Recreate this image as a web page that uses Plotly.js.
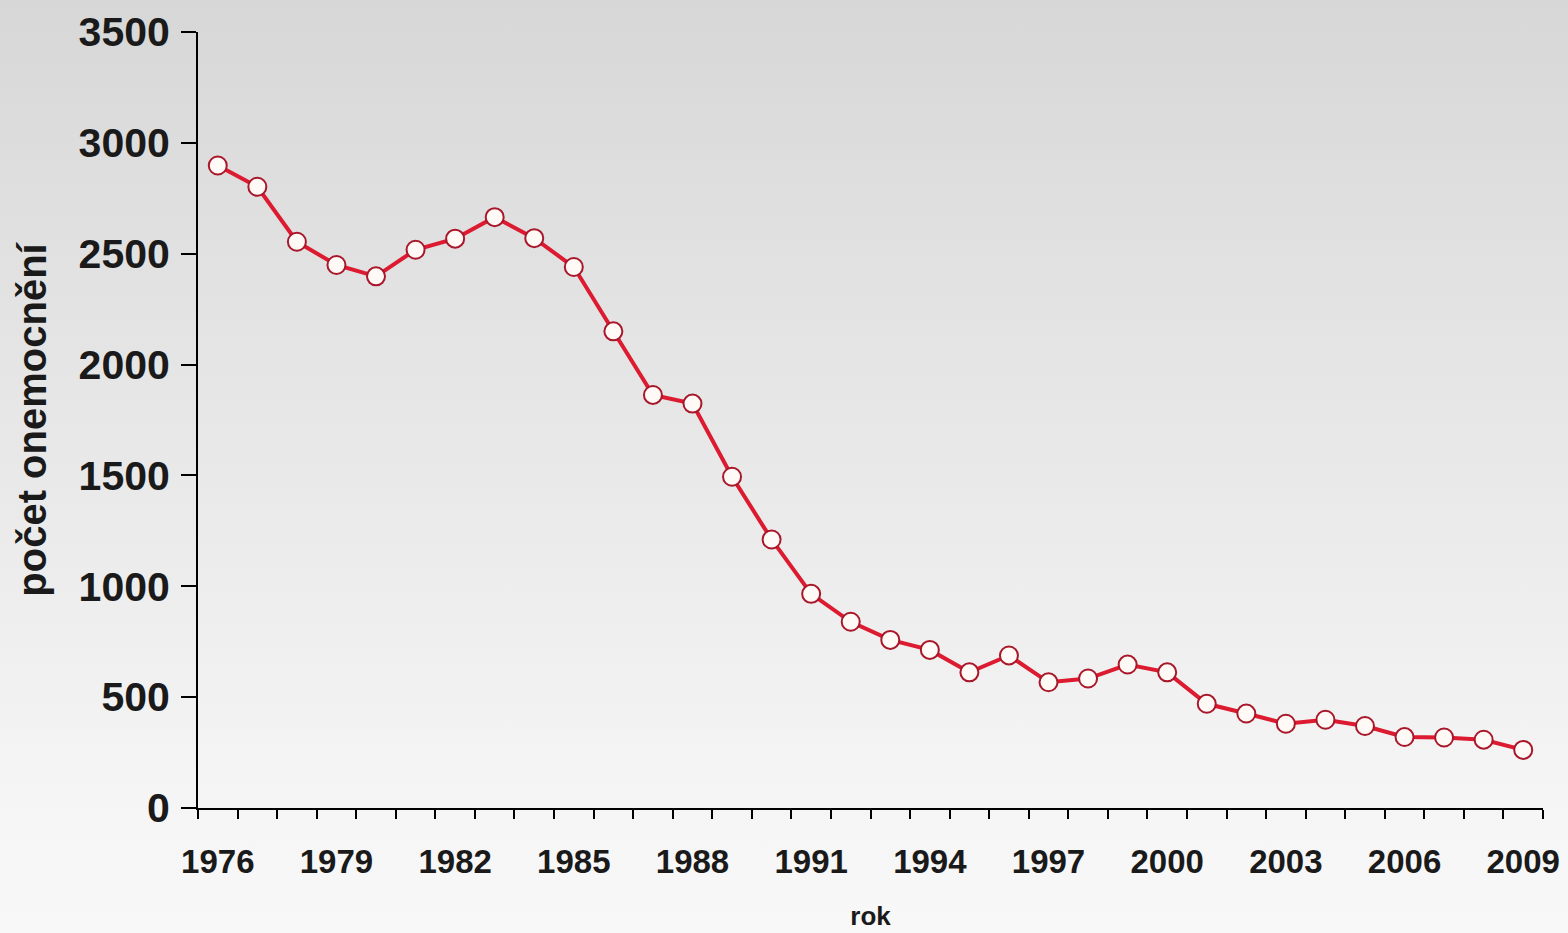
<!DOCTYPE html>
<html>
<head>
<meta charset="utf-8">
<script src="https://cdn.plot.ly/plotly-3.0.1.min.js"></script>
<style>
  html, body { margin: 0; padding: 0; }
  #chart {
    width: 1568px; height: 933px;
    background: linear-gradient(to bottom, #d7d7d7 0%, #e2e2e2 30%, #ececec 60%, #f5f5f5 85%, #f8f8f8 100%);
  }
</style>
</head>
<body>
<div id="chart"></div>
<script>
// Data
const years = [1976,1977,1978,1979,1980,1981,1982,1983,1984,1985,1986,1987,1988,1989,1990,1991,1992,1993,1994,1995,1996,1997,1998,1999,2000,2001,2002,2003,2004,2005,2006,2007,2008,2009];
const cases = [2898,2802,2554,2449,2398,2518,2568,2665,2570,2440,2150,1863,1824,1494,1211,966,840,758,713,612,688,567,584,647,612,470,426,380,398,370,320,318,308,262];
const yearTickLabels = ['1976','1979','1982','1985','1988','1991','1994','1997','2000','2003','2006','2009'];
const yearTickVals = yearTickLabels.map(Number);
const yTickVals = [0,500,1000,1500,2000,2500,3000,3500];

const FONT = '"Liberation Sans", Arial, sans-serif';

const trace = {
  x: years,
  y: cases,
  type: 'scatter',
  mode: 'lines+markers',
  line: { color: '#dc1a30', width: 4 },
  marker: { symbol: 'circle', size: 18, color: '#fffaf6', line: { color: '#a8172a', width: 2 } },
  hoverinfo: 'x+y',
  showlegend: false
};

const layout = {
  width: 1568,
  height: 933,
  paper_bgcolor: 'rgba(0,0,0,0)',
  plot_bgcolor: 'rgba(0,0,0,0)',
  margin: { l: 198, r: 25, t: 32, b: 125 },
  font: { family: FONT, color: '#1a1a1a' },
  xaxis: {
    range: [1975.5, 2009.5],
    tickmode: 'array',
    tickvals: yearTickVals,
    ticktext: yearTickLabels,
    ticks: 'outside',
    ticklen: 23,
    tickcolor: 'rgba(0,0,0,0)',
    tickfont: { family: FONT, size: 33, color: '#1a1a1a', weight: 'bold' },
    showline: true,
    linecolor: '#000',
    linewidth: 2,
    showgrid: false,
    zeroline: false,
    minor: { tick0: 1975.5, dtick: 1, ticks: 'outside', ticklen: 9, tickwidth: 2, tickcolor: '#000', showgrid: false },
    title: { text: 'rok', font: { family: FONT, size: 26, color: '#1a1a1a', weight: 'bold' }, standoff: 28 }
  },
  yaxis: {
    range: [0, 3500],
    tickmode: 'array',
    tickvals: yTickVals,
    ticks: 'outside',
    ticklen: 15,
    tickwidth: 2,
    tickcolor: '#000',
    ticklabelstandoff: 3,
    tickfont: { family: FONT, size: 41, color: '#1a1a1a', weight: 'bold' },
    showline: true,
    linecolor: '#000',
    linewidth: 2,
    showgrid: false,
    zeroline: false,
    title: { text: 'počet onemocnění', font: { family: FONT, size: 40, color: '#1a1a1a', weight: 'bold' }, standoff: 20 }
  }
};

Plotly.newPlot('chart', [trace], layout, { displayModeBar: false, responsive: false });
</script>
</body>
</html>
